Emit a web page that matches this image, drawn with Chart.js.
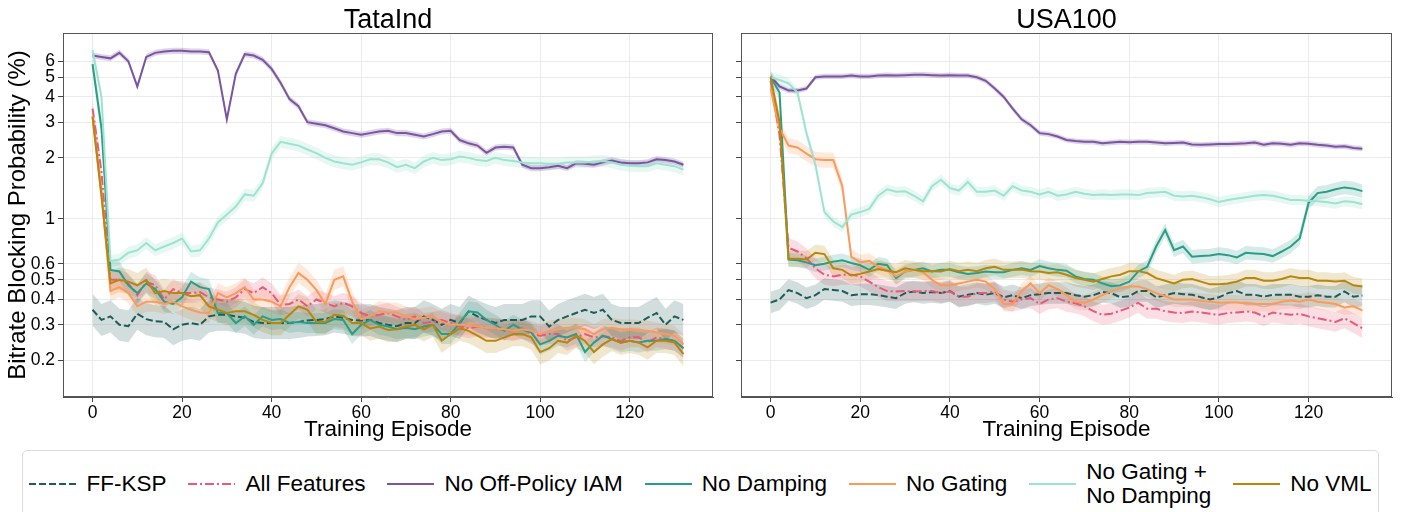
<!DOCTYPE html>
<html>
<head>
<meta charset="utf-8">
<title>Bitrate blocking probability during training</title>
<script src="https://cdn.jsdelivr.net/npm/chart.js@4.4.0/dist/chart.umd.min.js"></script>
<style>
    body {
        margin: 0;
        width: 1405px;
        height: 512px;
        background: #fff;
        overflow: hidden;
        position: relative;
        font-family: "Liberation Sans", Arial, sans-serif;
    }
    #tataChart { position: absolute; left: 0; top: 0; }
    #usaChart { position: absolute; left: 720px; top: 0; }
    #legend {
        position: absolute;
        left: 22px;
        top: 450px;
        width: 1357px;
        height: 68px;
        box-sizing: border-box;
        border: 1px solid #dcdcdc;
        border-radius: 5px;
        display: flex;
        align-items: center;
        justify-content: center;
        gap: 22px;
        font-size: 22.5px;
        color: #000;
    }
    #legend .item { display: flex; align-items: center; gap: 10px; }
    #legend .item span { line-height: 1.05; }
</style>
</head>
<body>
<canvas id="tataChart" width="720" height="445"></canvas>
<canvas id="usaChart" width="685" height="445"></canvas>
<div id="legend"></div>

<script>
// 训练回合（每 2 个回合取一个点）
const EPISODES = [
    0, 2, 4, 6, 8, 10, 12, 14, 16, 18,
    20, 22, 24, 26, 28, 30, 32, 34, 36, 38,
    40, 42, 44, 46, 48, 50, 52, 54, 56, 58,
    60, 62, 64, 66, 68, 70, 72, 74, 76, 78,
    80, 82, 84, 86, 88, 90, 92, 94, 96, 98,
    100, 102, 104, 106, 108, 110, 112, 114, 116, 118,
    120, 122, 124, 126, 128, 130, 132
];

const SERIES_NAMES = ['FF-KSP', 'All Features', 'No Off-Policy IAM', 'No Damping',
    'No Gating', 'No Gating + No Damping', 'No VML'];

const Y_TICKS = [0.2, 0.3, 0.4, 0.5, 0.6, 1, 2, 3, 4, 5, 6];
const X_TICKS = [0, 20, 40, 60, 80, 100, 120];

// ---- TataInd ----
const tataFfKsp = [
    0.356, 0.317, 0.33, 0.30, 0.295, 0.34, 0.32, 0.312, 0.31, 0.285,
    0.30, 0.306, 0.30, 0.33, 0.336, 0.336, 0.33, 0.325, 0.31, 0.306,
    0.306, 0.306, 0.306, 0.31, 0.315, 0.317, 0.32, 0.33, 0.325, 0.317,
    0.315, 0.317, 0.306, 0.30, 0.295, 0.306, 0.306, 0.33, 0.317, 0.30,
    0.317, 0.306, 0.349, 0.33, 0.317, 0.306, 0.317, 0.317, 0.317, 0.33,
    0.33, 0.294, 0.317, 0.33, 0.343, 0.356, 0.343, 0.356, 0.317, 0.306,
    0.306, 0.306, 0.325, 0.343, 0.30, 0.33, 0.317
];
const tataAllFeatures = [
    3.5, 1.7, 0.5, 0.5, 0.48, 0.42, 0.49, 0.47, 0.40, 0.45,
    0.43, 0.43, 0.435, 0.41, 0.40, 0.39, 0.41, 0.45, 0.43, 0.46,
    0.43, 0.376, 0.38, 0.40, 0.37, 0.40, 0.385, 0.37, 0.385, 0.37,
    0.343, 0.33, 0.336, 0.343, 0.33, 0.317, 0.33, 0.306, 0.31, 0.317,
    0.306, 0.295, 0.288, 0.294, 0.29, 0.288, 0.283, 0.28, 0.288, 0.27,
    0.265, 0.27, 0.27, 0.25, 0.26, 0.27, 0.26, 0.263, 0.26, 0.25,
    0.26, 0.26, 0.245, 0.26, 0.255, 0.25, 0.23
];
const tataNoIam = [
    6.4, 6.3, 6.2, 6.6, 6.0, 4.5, 6.3, 6.6, 6.7, 6.75,
    6.75, 6.7, 6.7, 6.65, 5.4, 3.1, 5.2, 6.5, 6.4, 6.1,
    5.5, 4.7, 3.9, 3.6, 3.0, 2.95, 2.9, 2.8, 2.7, 2.65,
    2.6, 2.65, 2.7, 2.72, 2.65, 2.65, 2.6, 2.55, 2.62, 2.7,
    2.72, 2.45, 2.36, 2.3, 2.12, 2.25, 2.27, 2.25, 1.85, 1.78,
    1.78, 1.8, 1.83, 1.78, 1.88, 1.87, 1.85, 1.9, 1.94, 1.9,
    1.88, 1.88, 1.9, 1.97, 1.95, 1.92, 1.85
];
const tataNoDamping = [
    5.8, 2.8, 0.56, 0.55, 0.47, 0.43, 0.48, 0.45, 0.39, 0.38,
    0.41, 0.49, 0.46, 0.45, 0.343, 0.343, 0.306, 0.33, 0.30, 0.33,
    0.317, 0.32, 0.306, 0.31, 0.306, 0.306, 0.306, 0.32, 0.317, 0.27,
    0.30, 0.317, 0.30, 0.294, 0.285, 0.29, 0.285, 0.294, 0.30, 0.27,
    0.27, 0.306, 0.35, 0.345, 0.317, 0.30, 0.28, 0.30, 0.285, 0.275,
    0.24, 0.25, 0.265, 0.26, 0.27, 0.22, 0.245, 0.265, 0.255, 0.245,
    0.25, 0.245, 0.25, 0.25, 0.255, 0.25, 0.23
];
const tataNoGating = [
    3.2, 1.35, 0.44, 0.46, 0.43, 0.37, 0.39, 0.39, 0.38, 0.39,
    0.37, 0.356, 0.345, 0.343, 0.43, 0.41, 0.43, 0.46, 0.40, 0.40,
    0.39, 0.37, 0.46, 0.54, 0.50, 0.446, 0.38, 0.50, 0.52, 0.39,
    0.32, 0.33, 0.35, 0.345, 0.345, 0.33, 0.32, 0.325, 0.33, 0.31,
    0.30, 0.30, 0.30, 0.294, 0.29, 0.288, 0.285, 0.28, 0.285, 0.28,
    0.27, 0.28, 0.285, 0.29, 0.29, 0.285, 0.27, 0.285, 0.29, 0.285,
    0.285, 0.283, 0.28, 0.275, 0.27, 0.265, 0.24
];
const tataNoGatingDamping = [
    6.8, 4.0, 0.62, 0.63, 0.68, 0.70, 0.76, 0.70, 0.73, 0.76,
    0.80, 0.69, 0.70, 0.80, 0.96, 1.05, 1.15, 1.32, 1.30, 1.5,
    2.1, 2.4, 2.35, 2.3, 2.2, 2.11, 2.0, 1.92, 1.88, 1.85,
    1.9, 1.97, 1.97, 1.9, 1.8, 1.85, 1.78, 1.92, 2.0, 1.95,
    1.97, 2.03, 2.0, 1.95, 1.93, 2.0, 1.95, 1.93, 1.9, 1.88,
    1.88, 1.87, 1.87, 1.9, 1.9, 1.9, 1.92, 1.93, 1.9, 1.85,
    1.83, 1.82, 1.82, 1.88, 1.85, 1.82, 1.75
];
const tataNoVml = [
    3.2, 1.3, 0.48, 0.5, 0.49, 0.47, 0.5, 0.43, 0.44, 0.43,
    0.43, 0.415, 0.42, 0.37, 0.356, 0.343, 0.35, 0.35, 0.336, 0.317,
    0.306, 0.306, 0.336, 0.37, 0.356, 0.31, 0.31, 0.336, 0.333, 0.306,
    0.306, 0.288, 0.294, 0.283, 0.285, 0.294, 0.30, 0.285, 0.30, 0.25,
    0.27, 0.288, 0.28, 0.265, 0.25, 0.25, 0.26, 0.27, 0.27, 0.26,
    0.22, 0.23, 0.25, 0.245, 0.265, 0.25, 0.22, 0.24, 0.255, 0.245,
    0.25, 0.245, 0.232, 0.25, 0.25, 0.245, 0.215
];
// 置信带相对半宽（按 SERIES_NAMES 顺序）
const tataSpread = [0.20, 0.12, 0.035, 0.12, 0.12, 0.07, 0.15];

// ---- USA100 ----
const usaFfKsp = [
    0.386, 0.40, 0.445, 0.43, 0.406, 0.42, 0.45, 0.446, 0.44, 0.42,
    0.425, 0.425, 0.42, 0.413, 0.406, 0.43, 0.438, 0.43, 0.435, 0.43,
    0.44, 0.413, 0.422, 0.43, 0.422, 0.43, 0.41, 0.42, 0.406, 0.42,
    0.425, 0.43, 0.43, 0.43, 0.42, 0.413, 0.42, 0.436, 0.43, 0.41,
    0.415, 0.44, 0.44, 0.41, 0.42, 0.43, 0.425, 0.422, 0.41, 0.40,
    0.41, 0.43, 0.44, 0.422, 0.422, 0.413, 0.422, 0.422, 0.422, 0.413,
    0.413, 0.42, 0.413, 0.413, 0.438, 0.413, 0.418
];
const usaAllFeatures = [
    4.8, 2.6, 0.72, 0.69, 0.64, 0.57, 0.53, 0.52, 0.53, 0.53,
    0.52, 0.49, 0.46, 0.44, 0.438, 0.44, 0.438, 0.44, 0.44, 0.43,
    0.438, 0.413, 0.413, 0.43, 0.43, 0.438, 0.40, 0.39, 0.40, 0.406,
    0.38, 0.40, 0.406, 0.39, 0.383, 0.37, 0.35, 0.336, 0.34, 0.352,
    0.365, 0.385, 0.36, 0.36, 0.35, 0.345, 0.343, 0.349, 0.345, 0.34,
    0.336, 0.343, 0.345, 0.349, 0.345, 0.33, 0.345, 0.34, 0.336, 0.34,
    0.33, 0.323, 0.317, 0.31, 0.323, 0.306, 0.288
];
const usaNoIam = [
    5.05, 4.5, 4.3, 4.3, 4.4, 5.0, 5.05, 5.05, 5.05, 5.1,
    5.05, 5.05, 5.1, 5.12, 5.1, 5.12, 5.15, 5.15, 5.12, 5.1,
    5.12, 5.1, 5.1, 5.0, 4.8, 4.4, 4.0, 3.5, 3.1, 2.9,
    2.65, 2.62, 2.55, 2.45, 2.42, 2.4, 2.4, 2.36, 2.38, 2.4,
    2.39, 2.4, 2.4, 2.38, 2.36, 2.37, 2.38, 2.33, 2.32, 2.33,
    2.34, 2.34, 2.35, 2.36, 2.38, 2.32, 2.36, 2.35, 2.32, 2.36,
    2.35, 2.32, 2.3, 2.27, 2.28, 2.24, 2.22
];
const usaNoDamping = [
    5.0, 4.2, 0.63, 0.625, 0.61, 0.59, 0.6, 0.615, 0.625, 0.605,
    0.59, 0.56, 0.60, 0.59, 0.51, 0.55, 0.56, 0.57, 0.55, 0.56,
    0.56, 0.545, 0.535, 0.54, 0.55, 0.545, 0.545, 0.56, 0.57, 0.56,
    0.585, 0.57, 0.56, 0.555, 0.52, 0.505, 0.50, 0.48, 0.465, 0.47,
    0.49, 0.55, 0.58, 0.73, 0.88, 0.70, 0.73, 0.65, 0.655, 0.66,
    0.67, 0.662, 0.645, 0.68, 0.675, 0.67, 0.655, 0.69, 0.73, 0.80,
    1.2, 1.34, 1.36, 1.4, 1.43, 1.41, 1.37
];
const usaNoGating = [
    4.4, 2.8, 2.3, 2.25, 2.1, 1.97, 1.95, 1.95, 1.45, 0.65,
    0.61, 0.62, 0.58, 0.56, 0.52, 0.55, 0.56, 0.545, 0.50, 0.47,
    0.47, 0.48, 0.49, 0.50, 0.49, 0.45, 0.38, 0.38, 0.44, 0.48,
    0.43, 0.47, 0.45, 0.42, 0.39, 0.385, 0.40, 0.42, 0.44, 0.455,
    0.463, 0.463, 0.45, 0.43, 0.415, 0.40, 0.40, 0.40, 0.393, 0.39,
    0.385, 0.386, 0.386, 0.383, 0.38, 0.38, 0.38, 0.39, 0.395, 0.39,
    0.40, 0.39, 0.385, 0.38, 0.365, 0.37, 0.353
];
const usaNoGatingDamping = [
    5.0, 4.85, 4.67, 4.2, 2.65, 1.85, 1.08, 0.97, 0.91, 1.05,
    1.08, 1.12, 1.3, 1.4, 1.36, 1.37, 1.3, 1.22, 1.45, 1.56,
    1.42, 1.38, 1.52, 1.36, 1.36, 1.38, 1.3, 1.45, 1.38, 1.36,
    1.32, 1.36, 1.3, 1.32, 1.36, 1.33, 1.31, 1.32, 1.31, 1.32,
    1.32, 1.31, 1.34, 1.35, 1.36, 1.3, 1.29, 1.3, 1.28, 1.25,
    1.21, 1.24, 1.26, 1.28, 1.3, 1.31, 1.3, 1.27, 1.24, 1.24,
    1.23, 1.22, 1.21, 1.19, 1.22, 1.21, 1.18
];
const usaNoVml = [
    5.0, 3.0, 0.635, 0.635, 0.63, 0.68, 0.67, 0.57, 0.56, 0.525,
    0.535, 0.55, 0.565, 0.555, 0.545, 0.57, 0.56, 0.552, 0.552, 0.55,
    0.565, 0.552, 0.56, 0.552, 0.57, 0.58, 0.56, 0.56, 0.563, 0.552,
    0.55, 0.54, 0.545, 0.53, 0.51, 0.50, 0.49, 0.505, 0.52, 0.53,
    0.552, 0.552, 0.54, 0.51, 0.495, 0.48, 0.50, 0.505, 0.49, 0.475,
    0.475, 0.48, 0.49, 0.51, 0.51, 0.495, 0.495, 0.505, 0.52, 0.51,
    0.51, 0.495, 0.495, 0.49, 0.495, 0.47, 0.463
];
const usaSpread = [0.13, 0.12, 0.03, 0.08, 0.09, 0.06, 0.10];

// 线条样式
const STYLES = [
    { color: '30, 92, 87', dash: [7, 3] },
    { color: '232, 89, 122', dash: [9, 3, 2, 3] },
    { color: '123, 85, 159', dash: [] },
    { color: '42, 157, 135', dash: [] },
    { color: '251, 154, 91', dash: [] },
    { color: '158, 227, 208', dash: [] },
    { color: '184, 134, 11', dash: [] }
];
const BAND_ALPHA = [0.2, 0.2, 0.25, 0.2, 0.22, 0.25, 0.2];

const FONT = '"Liberation Sans", Arial, sans-serif';

function toPoints(values, factor) {
    return EPISODES.map((x, j) => ({ x: x, y: values[j] * factor }));
}

function buildDatasets(seriesValues, spread) {
    const sets = [];
    // 置信带：上界填充到下界
    seriesValues.forEach((values, i) => {
        const band = `rgba(${STYLES[i].color}, ${BAND_ALPHA[i]})`;
        sets.push({
            label: SERIES_NAMES[i] + ' upper',
            data: toPoints(values, 1 + spread[i]),
            borderColor: 'transparent',
            borderWidth: 0,
            backgroundColor: band,
            pointRadius: 0,
            fill: '+1',
            order: 100
        });
        sets.push({
            label: SERIES_NAMES[i] + ' lower',
            data: toPoints(values, 1 / (1 + spread[i])),
            borderColor: 'transparent',
            borderWidth: 0,
            pointRadius: 0,
            fill: false,
            order: 100
        });
    });
    // 均值曲线，图例中靠后的画在上层
    seriesValues.forEach((values, i) => {
        sets.push({
            label: SERIES_NAMES[i],
            data: toPoints(values, 1),
            borderColor: `rgb(${STYLES[i].color})`,
            borderDash: STYLES[i].dash,
            borderWidth: 2,
            pointRadius: 0,
            fill: false,
            tension: 0,
            order: 10 - i
        });
    });
    return sets;
}

// 标题和外框
const panelDecor = {
    id: 'panelDecor',
    afterDraw(chart, args, opts) {
        const { ctx, chartArea } = chart;
        ctx.save();
        ctx.strokeStyle = '#555';
        ctx.lineWidth = 1;
        ctx.strokeRect(chartArea.left + 0.5, chartArea.top + 0.5,
            chartArea.right - chartArea.left - 1, chartArea.bottom - chartArea.top - 1);
        ctx.fillStyle = '#000';
        ctx.font = '27px ' + FONT;
        ctx.textAlign = 'center';
        ctx.textBaseline = 'alphabetic';
        ctx.fillText(opts.text, (chartArea.left + chartArea.right) / 2, 28);
        ctx.restore();
    }
};

function renderPanel(canvasId, title, seriesValues, spread, showYLabels, yWidth, rightPad) {
    const ctx = document.getElementById(canvasId);
    return new Chart(ctx, {
        type: 'line',
        data: { datasets: buildDatasets(seriesValues, spread) },
        options: {
            responsive: false,
            animation: false,
            events: [],
            layout: { padding: { top: 33, right: rightPad, left: 0, bottom: 0 } },
            plugins: {
                legend: { display: false },
                tooltip: { enabled: false },
                title: { display: false },
                panelDecor: { text: title }
            },
            scales: {
                x: {
                    type: 'linear',
                    min: -6.6,
                    max: 138.6,
                    afterBuildTicks: (scale) => { scale.ticks = X_TICKS.map(v => ({ value: v })); },
                    afterFit: (scale) => { scale.height = 48; },
                    ticks: {
                        color: '#000',
                        font: { family: FONT, size: 17.5 },
                        padding: 1,
                        maxRotation: 0
                    },
                    grid: { color: '#ebebeb', tickColor: '#444', tickLength: 5 },
                    border: { color: '#555' },
                    title: {
                        display: true,
                        text: 'Training Episode',
                        color: '#000',
                        font: { family: FONT, size: 22.5 },
                        padding: { top: 0, bottom: 2 }
                    }
                },
                y: {
                    type: 'logarithmic',
                    min: 0.132,
                    max: 8.27,
                    afterBuildTicks: (scale) => { scale.ticks = Y_TICKS.map(v => ({ value: v, major: v === 1 })); },
                    afterFit: (scale) => { scale.width = yWidth; },
                    ticks: {
                        autoSkip: false,
                        color: '#000',
                        font: { family: FONT, size: 17.5 },
                        padding: 3,
                        callback: (v) => showYLabels ? String(v) : ''
                    },
                    grid: { color: '#ebebeb', tickColor: '#444', tickLength: 5 },
                    border: { color: '#555' },
                    title: {
                        display: showYLabels,
                        text: 'Bitrate Blocking Probability (%)',
                        color: '#000',
                        font: { family: FONT, size: 24 },
                        padding: { top: 4, bottom: 0 }
                    }
                }
            }
        },
        plugins: [panelDecor]
    });
}

function renderLegend() {
    const box = document.getElementById('legend');
    SERIES_NAMES.forEach((name, i) => {
        const item = document.createElement('div');
        item.className = 'item';
        const dash = STYLES[i].dash.length ? `stroke-dasharray="${STYLES[i].dash.join(' ')}"` : '';
        item.innerHTML = `<svg width="47" height="6"><line x1="0" y1="3" x2="47" y2="3" stroke="rgb(${STYLES[i].color})" stroke-width="2" ${dash}/></svg>`;
        const label = document.createElement('span');
        if (name === 'No Gating + No Damping') {
            label.innerHTML = 'No Gating +<br>No Damping';
        } else {
            label.textContent = name;
        }
        item.appendChild(label);
        box.appendChild(item);
    });
}

renderPanel('tataChart', 'TataInd',
    [tataFfKsp, tataAllFeatures, tataNoIam, tataNoDamping, tataNoGating, tataNoGatingDamping, tataNoVml],
    tataSpread, true, 63, 7);
renderPanel('usaChart', 'USA100',
    [usaFfKsp, usaAllFeatures, usaNoIam, usaNoDamping, usaNoGating, usaNoGatingDamping, usaNoVml],
    usaSpread, false, 21, 13);
renderLegend();
</script>
</body>
</html>
